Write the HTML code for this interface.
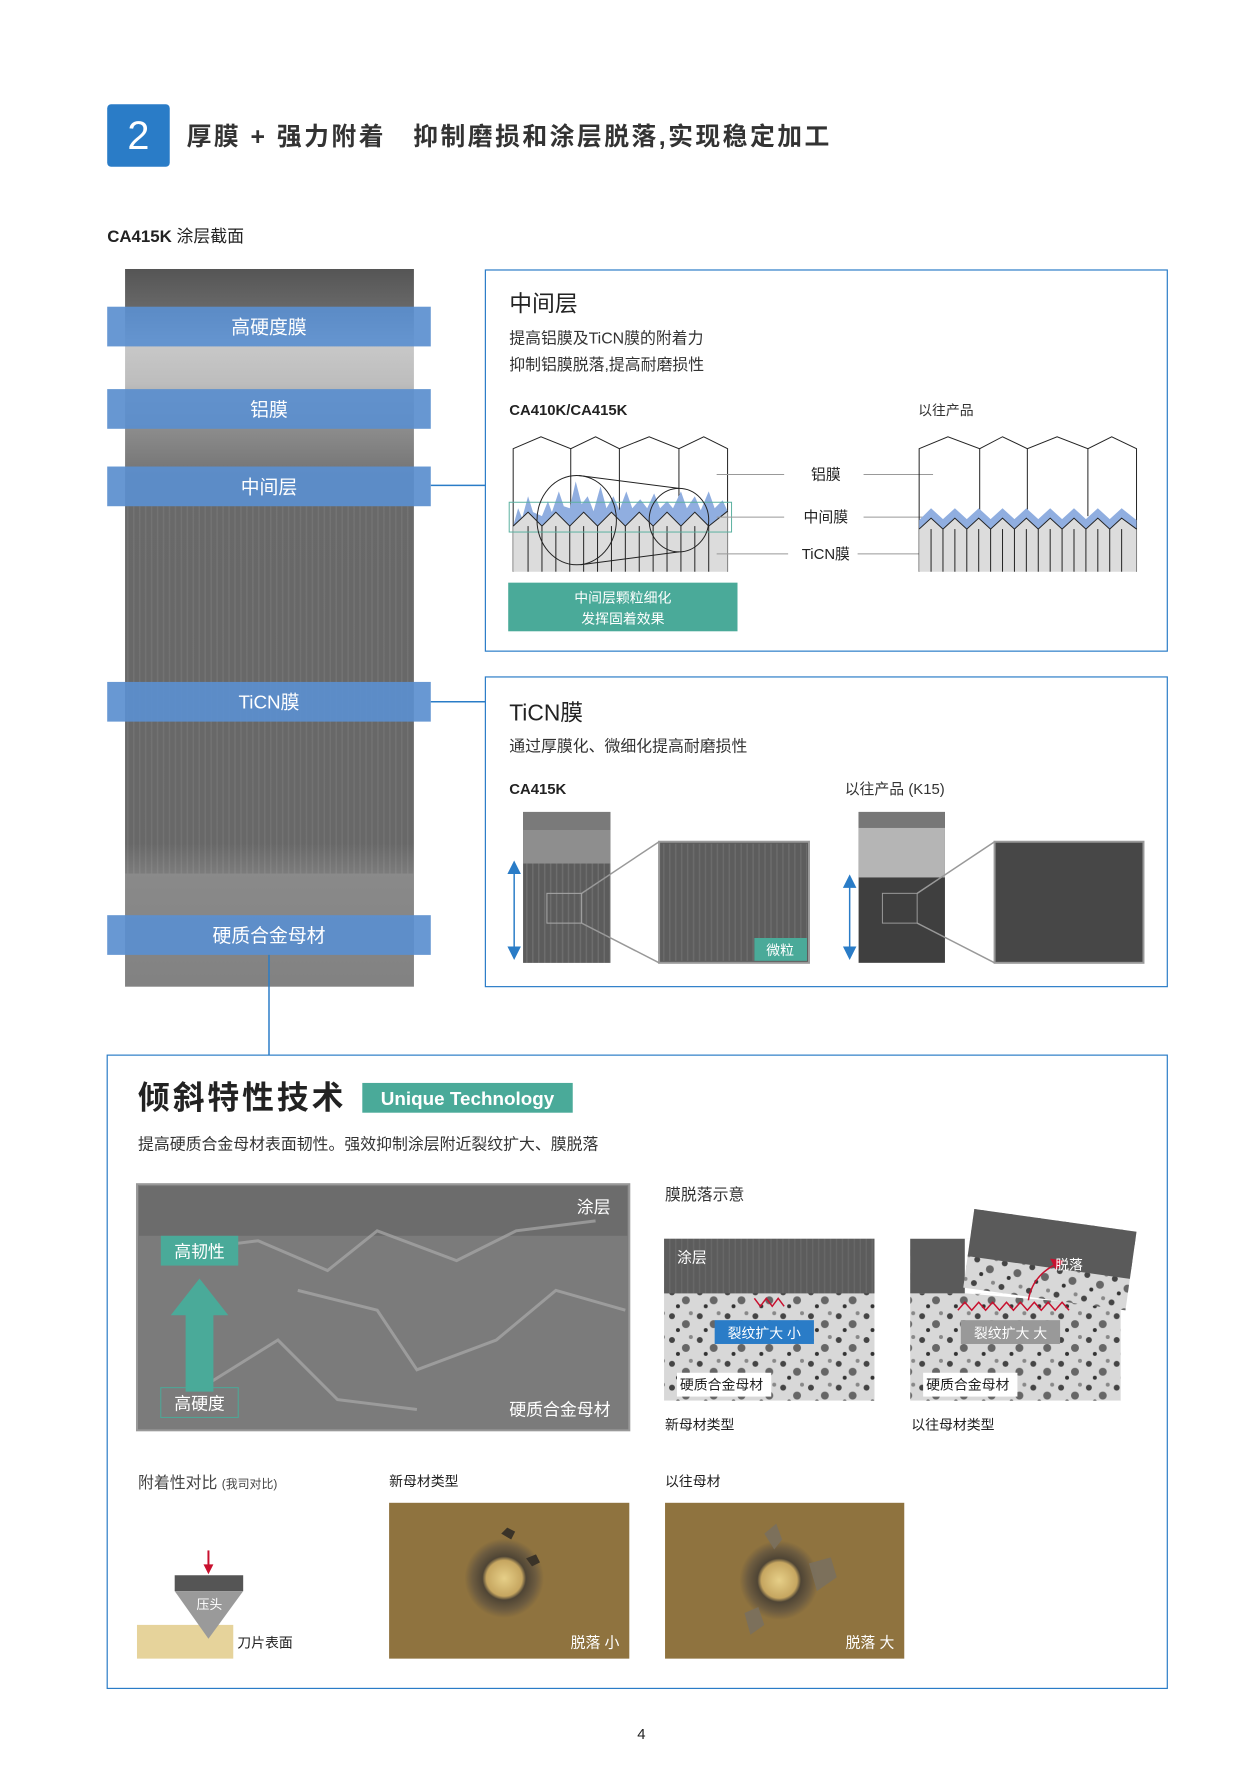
<!DOCTYPE html>
<html><head><meta charset="utf-8"><style>
html,body{margin:0;padding:0;background:#fff;}
svg{display:block;}
text{font-family:"Liberation Sans","Noto Sans CJK SC",sans-serif;}
</style></head><body>
<svg width="1257" height="1778" viewBox="0 0 1257 1778" xmlns="http://www.w3.org/2000/svg">
<defs>
<linearGradient id="lp" x1="0" y1="0" x2="0" y2="1">
<stop offset="0" stop-color="#555"/><stop offset="0.06" stop-color="#6a6a6a"/><stop offset="0.1" stop-color="#c9c9c9"/><stop offset="0.16" stop-color="#bdbdbd"/><stop offset="0.22" stop-color="#8d8d8d"/><stop offset="0.3" stop-color="#6f6f6f"/><stop offset="0.8" stop-color="#6d6d6d"/><stop offset="0.84" stop-color="#8a8a8a"/><stop offset="1" stop-color="#7a7a7a"/>
</linearGradient>
<pattern id="spk" width="28" height="24" patternUnits="userSpaceOnUse">
<rect width="28" height="24" fill="#d8d8d8"/><circle cx="5" cy="6" r="3" fill="#444"/><circle cx="19" cy="14" r="4" fill="#666"/><circle cx="11" cy="20" r="2" fill="#333"/><circle cx="24" cy="3" r="2" fill="#888"/>
</pattern>
<pattern id="str" width="6" height="40" patternUnits="userSpaceOnUse">
<rect width="6" height="40" fill="#5e5e5e"/><rect x="2" width="1.5" height="40" fill="#7a7a7a"/>
</pattern>
<radialGradient id="gold1"><stop offset="0" stop-color="#e6cf88"/><stop offset="0.45" stop-color="#c6a660"/><stop offset="0.55" stop-color="#4f4535"/><stop offset="0.8" stop-color="#6d5c40"/><stop offset="1" stop-color="#8f733f"/></radialGradient>
</defs>
<g transform="scale(0.9926)">
<!-- header -->
<rect x="108" y="105" width="63" height="63" rx="4" fill="#2a7cc7"/>
<text x="139.5" y="150" font-size="40" fill="#fff" text-anchor="middle">2</text>
<text x="188" y="146" font-size="25" font-weight="bold" fill="#333" letter-spacing="2.5">厚膜 + 强力附着　抑制磨损和涂层脱落,实现稳定加工</text>

<text x="108" y="244" font-size="17" fill="#222"><tspan font-weight="bold">CA415K</tspan> 涂层截面</text>

<!-- left photo -->
<rect x="126" y="271" width="291" height="723" fill="url(#lp)"/>
<rect x="126" y="510" width="291" height="370" fill="url(#str)" opacity="0.35"/>
<path d="M126 880 L417 880 L417 994 L126 994Z" fill="#8a8a8a" opacity="0.5"/>
<g fill="#5b8fcf" opacity="0.92">
<rect x="108" y="309" width="326" height="40"/>
<rect x="108" y="392" width="326" height="40"/>
<rect x="108" y="470" width="326" height="40"/>
<rect x="108" y="687" width="326" height="40"/>
<rect x="108" y="922" width="326" height="40"/>
</g>
<g font-size="19" fill="#fff" text-anchor="middle">
<text x="271" y="336">高硬度膜</text>
<text x="271" y="419">铝膜</text>
<text x="271" y="497">中间层</text>
<text x="271" y="714">TiCN膜</text>
<text x="271" y="949">硬质合金母材</text>
</g>
<g stroke="#2a7cc7" stroke-width="1.5" fill="none">
<line x1="434" y1="489" x2="489" y2="489"/>
<line x1="434" y1="707" x2="489" y2="707"/>
<line x1="271" y1="962" x2="271" y2="1063"/>
</g>

<!-- box 1 -->
<rect x="489" y="272" width="687" height="384" fill="none" stroke="#2a7cc7" stroke-width="1.2"/>
<text x="513" y="314" font-size="23" fill="#222">中间层</text>
<text x="513" y="346" font-size="16" fill="#333">提高铝膜及TiCN膜的附着力</text>
<text x="513" y="373" font-size="16" fill="#333">抑制铝膜脱落,提高耐磨损性</text>
<text x="513" y="418" font-size="15" fill="#222" font-weight="bold">CA410K/CA415K</text>
<text x="925" y="418" font-size="14" fill="#333">以往产品</text>

<g stroke="#222" stroke-width="1" fill="none">
<path d="M517 576 L517 452 L545 440 L575 452 L600 440 L624 452 L654 440 L684 452 L709 440 L733 452 L733 576"/>
<line x1="575" y1="452" x2="575" y2="530"/><line x1="624" y1="452" x2="624" y2="530"/><line x1="684" y1="452" x2="684" y2="530"/>
</g>
<path d="M517 576 L517 530 L532 516 L546 530 L560 516 L574 530 L588 516 L602 530 L616 516 L630 530 L644 516 L658 530 L672 516 L686 530 L700 516 L714 530 L733 515 L733 576Z" fill="#dcdcdc"/>
<path d="M517 530 L522 512 L526 522 L532 500 L537 516 L546 520 L552 505 L556 516 L563 495 L568 510 L574 512 L580 485 L586 508 L592 500 L598 515 L605 490 L611 512 L618 500 L624 514 L631 495 L637 512 L645 503 L652 512 L659 497 L665 512 L672 505 L678 512 L686 495 L692 512 L700 500 L706 514 L714 495 L720 512 L728 504 L733 515 L714 530 L700 516 L686 530 L672 516 L658 530 L644 516 L630 530 L616 516 L602 530 L588 516 L574 530 L560 516 L546 530 L532 516Z" fill="#90aee0"/>
<path d="M517 530 L532 516 L546 530 L560 516 L574 530 L588 516 L602 530 L616 516 L630 530 L644 516 L658 530 L672 516 L686 530 L700 516 L714 530 L733 515" stroke="#222" fill="none"/>
<g stroke="#222" stroke-width="1"><line x1="532" y1="530" x2="532" y2="576"/><line x1="546" y1="530" x2="546" y2="576"/><line x1="560" y1="530" x2="560" y2="576"/><line x1="574" y1="530" x2="574" y2="576"/><line x1="588" y1="530" x2="588" y2="576"/><line x1="602" y1="530" x2="602" y2="576"/><line x1="616" y1="530" x2="616" y2="576"/><line x1="630" y1="530" x2="630" y2="576"/><line x1="644" y1="530" x2="644" y2="576"/><line x1="658" y1="530" x2="658" y2="576"/><line x1="672" y1="530" x2="672" y2="576"/><line x1="686" y1="530" x2="686" y2="576"/><line x1="700" y1="530" x2="700" y2="576"/><line x1="714" y1="530" x2="714" y2="576"/></g>
<rect x="513" y="506" width="224" height="30" fill="none" stroke="#5ab0a0" stroke-width="1"/>
<ellipse cx="581" cy="524" rx="40" ry="45" fill="none" stroke="#222"/>
<ellipse cx="684" cy="524" rx="30" ry="32" fill="none" stroke="#222"/>
<line x1="583" y1="479" x2="684" y2="492" stroke="#222"/><line x1="585" y1="569" x2="684" y2="556" stroke="#222"/>
<rect x="512" y="587" width="231" height="49" fill="#4aaa99"/>
<text x="627.5" y="607" font-size="14" fill="#fff" text-anchor="middle">中间层颗粒细化</text>
<text x="627.5" y="628" font-size="14" fill="#fff" text-anchor="middle">发挥固着效果</text>

<g stroke="#999" stroke-width="1">
<line x1="722" y1="478" x2="790" y2="478"/><line x1="870" y1="478" x2="940" y2="478"/>
<line x1="722" y1="521" x2="790" y2="521"/><line x1="870" y1="521" x2="940" y2="521"/>
<line x1="722" y1="558" x2="794" y2="558"/><line x1="864" y1="558" x2="940" y2="558"/>
</g>
<g font-size="15" fill="#222" text-anchor="middle">
<text x="832" y="483">铝膜</text><text x="832" y="526">中间膜</text><text x="832" y="563">TiCN膜</text>
</g>

<g stroke="#222" stroke-width="1" fill="none">
<path d="M926 576 L926 452 L955 440 L987 452 L1010 440 L1035 452 L1065 440 L1096 452 L1120 440 L1145 452 L1145 576"/>
<line x1="987" y1="452" x2="987" y2="520"/><line x1="1035" y1="452" x2="1035" y2="520"/><line x1="1096" y1="452" x2="1096" y2="520"/>
</g>
<path d="M926 576 L926 533 L938 522 L950 533 L962 522 L974 533 L986 522 L998 533 L1010 522 L1022 533 L1034 522 L1046 533 L1058 522 L1070 533 L1082 522 L1094 533 L1106 522 L1118 533 L1130 522 L1145 533 L1145 576Z" fill="#dcdcdc"/>
<path d="M926 533 L938 522 L950 533 L962 522 L974 533 L986 522 L998 533 L1010 522 L1022 533 L1034 522 L1046 533 L1058 522 L1070 533 L1082 522 L1094 533 L1106 522 L1118 533 L1130 522 L1145 533 L1145 524 L1130 512 L1118 523 L1106 512 L1094 523 L1082 512 L1070 523 L1058 512 L1046 523 L1034 512 L1022 523 L1010 512 L998 523 L986 512 L974 523 L962 512 L950 523 L938 512 L926 524Z" fill="#90aee0"/>
<path d="M926 533 L938 522 L950 533 L962 522 L974 533 L986 522 L998 533 L1010 522 L1022 533 L1034 522 L1046 533 L1058 522 L1070 533 L1082 522 L1094 533 L1106 522 L1118 533 L1130 522 L1145 533" stroke="#222" fill="none"/>
<g stroke="#222"><line x1="938" y1="533" x2="938" y2="576"/><line x1="950" y1="533" x2="950" y2="576"/><line x1="962" y1="533" x2="962" y2="576"/><line x1="974" y1="533" x2="974" y2="576"/><line x1="986" y1="533" x2="986" y2="576"/><line x1="998" y1="533" x2="998" y2="576"/><line x1="1010" y1="533" x2="1010" y2="576"/><line x1="1022" y1="533" x2="1022" y2="576"/><line x1="1034" y1="533" x2="1034" y2="576"/><line x1="1046" y1="533" x2="1046" y2="576"/><line x1="1058" y1="533" x2="1058" y2="576"/><line x1="1070" y1="533" x2="1070" y2="576"/><line x1="1082" y1="533" x2="1082" y2="576"/><line x1="1094" y1="533" x2="1094" y2="576"/><line x1="1106" y1="533" x2="1106" y2="576"/><line x1="1118" y1="533" x2="1118" y2="576"/><line x1="1130" y1="533" x2="1130" y2="576"/></g>

<!-- box 2 -->
<rect x="489" y="682" width="687" height="312" fill="none" stroke="#2a7cc7" stroke-width="1.2"/>
<text x="513" y="726" font-size="23" fill="#222">TiCN膜</text>
<text x="513" y="757" font-size="16" fill="#333">通过厚膜化、微细化提高耐磨损性</text>
<text x="513" y="800" font-size="15" fill="#222" font-weight="bold">CA415K</text>
<text x="851" y="800" font-size="15" fill="#333">以往产品 (K15)</text>

<rect x="527" y="818" width="88" height="152" fill="#5a5a5a"/>
<rect x="527" y="818" width="88" height="18" fill="#7a7a7a"/>
<rect x="527" y="836" width="88" height="34" fill="#8e8e8e"/>
<rect x="527" y="870" width="88" height="100" fill="url(#str)" opacity="0.6"/>
<rect x="551" y="900" width="35" height="30" fill="none" stroke="#aaa"/>
<line x1="586" y1="900" x2="664" y2="848" stroke="#999" stroke-width="1.5"/><line x1="586" y1="930" x2="664" y2="970" stroke="#999" stroke-width="1.5"/>
<rect x="664" y="848" width="151" height="122" fill="#5c5c5c" stroke="#999" stroke-width="2"/>
<rect x="666" y="850" width="147" height="118" fill="url(#str)" opacity="0.5"/>
<rect x="760" y="945" width="53" height="23" fill="#4aaa99"/>
<text x="786" y="962" font-size="14" fill="#fff" text-anchor="middle">微粒</text>

<rect x="865" y="818" width="87" height="152" fill="#3f3f3f"/>
<rect x="865" y="818" width="87" height="16" fill="#777"/>
<rect x="865" y="834" width="87" height="50" fill="#b5b5b5"/>
<rect x="889" y="900" width="35" height="30" fill="none" stroke="#999"/>
<line x1="924" y1="900" x2="1002" y2="848" stroke="#999" stroke-width="1.5"/><line x1="924" y1="930" x2="1002" y2="970" stroke="#999" stroke-width="1.5"/>
<rect x="1002" y="848" width="150" height="122" fill="#474747" stroke="#999" stroke-width="2"/>

<g fill="#2a7cc7" stroke="#2a7cc7">
<line x1="518" y1="876" x2="518" y2="958" stroke-width="1.5"/><path d="M512 880 L518 868 L524 880Z"/><path d="M512 954 L518 966 L524 954Z"/>
<line x1="856" y1="890" x2="856" y2="958" stroke-width="1.5"/><path d="M850 894 L856 882 L862 894Z"/><path d="M850 954 L856 966 L862 954Z"/>
</g>

<!-- bottom box -->
<rect x="108" y="1063" width="1068" height="638" fill="none" stroke="#2a7cc7" stroke-width="1.2"/>
<text x="139" y="1117" font-size="32" font-weight="bold" fill="#222" letter-spacing="3">倾斜特性技术</text>
<rect x="365" y="1091" width="212" height="30" fill="#4aaa99"/>
<text x="471" y="1113" font-size="19" font-weight="bold" fill="#fff" text-anchor="middle">Unique Technology</text>
<text x="139" y="1158" font-size="16" fill="#333">提高硬质合金母材表面韧性。强效抑制涂层附近裂纹扩大、膜脱落</text>

<rect x="138" y="1193" width="496" height="248" fill="#7b7b7b" stroke="#999" stroke-width="2"/>
<rect x="140" y="1195" width="492" height="50" fill="#6c6c6c"/>
<g stroke="#aaa" stroke-width="3" fill="none" opacity="0.7"><path d="M180 1260 L260 1250 L330 1280 L380 1240 L460 1270 L520 1240 L600 1230"/><path d="M300 1300 L380 1320 L420 1380 L500 1350 L560 1300 L630 1320"/><path d="M200 1400 L280 1350 L340 1410 L420 1420"/></g>
<text x="615" y="1222" font-size="17" fill="#fff" text-anchor="end">涂层</text>
<text x="615" y="1426" font-size="17" fill="#fff" text-anchor="end">硬质合金母材</text>
<rect x="162" y="1245" width="78" height="30" fill="#4aaa99"/>
<text x="201" y="1267" font-size="17" fill="#fff" text-anchor="middle">高韧性</text>
<rect x="187" y="1322" width="28" height="80" fill="#4aaa99"/><path d="M172 1325 L201 1288 L230 1325Z" fill="#4aaa99"/>
<rect x="162" y="1398" width="78" height="30" fill="none" stroke="#4aaa99"/>
<text x="201" y="1420" font-size="17" fill="#fff" text-anchor="middle">高硬度</text>

<text x="670" y="1209" font-size="16" fill="#333">膜脱落示意</text>
<rect x="669" y="1248" width="212" height="163" fill="url(#spk)"/>
<rect x="669" y="1248" width="212" height="55" fill="#5a5a5a"/>
<rect x="669" y="1248" width="212" height="55" fill="url(#str)" opacity="0.4"/>
<text x="682" y="1272" font-size="15" fill="#fff">涂层</text>
<path d="M760 1308 l6 8 l6 -8 l6 8 l6 -8 l6 8" stroke="#c8102e" fill="none" stroke-width="1.5"/>
<rect x="720" y="1330" width="100" height="24" fill="#2a7cc7"/>
<text x="770" y="1348" font-size="14" fill="#fff" text-anchor="middle">裂纹扩大 小</text>
<rect x="682" y="1383" width="95" height="24" fill="#fff"/>
<text x="685" y="1400" font-size="14" fill="#222">硬质合金母材</text>
<text x="670" y="1440" font-size="14" fill="#222">新母材类型</text>

<rect x="917" y="1248" width="212" height="163" fill="url(#spk)"/>
<rect x="917" y="1248" width="212" height="55" fill="#fff"/>
<rect x="917" y="1248" width="55" height="55" fill="#5a5a5a"/>
<path d="M972 1303 L1129 1316 L1129 1303Z" fill="#fff"/>
<g transform="rotate(8 1050 1270)"><rect x="975" y="1228" width="165" height="80" fill="url(#spk)"/><rect x="975" y="1228" width="165" height="48" fill="#5a5a5a"/></g>
<path d="M965 1320 l7 -8 l7 8 l7 -8 l7 8 l7 -8 l7 8 l7 -8 l7 8 l7 -8 l7 8 l7 -8 l7 8 l7 -8 l7 8 l7 -8 l7 8" stroke="#c8102e" fill="none" stroke-width="1.5"/>
<path d="M1036 1310 Q1040 1285 1065 1273" stroke="#c8102e" fill="none" stroke-width="1.5"/><path d="M1058 1268 L1072 1270 L1064 1280Z" fill="#c8102e"/>
<text x="1063" y="1279" font-size="14" fill="#fff">脱落</text>
<rect x="968" y="1330" width="100" height="24" fill="#999"/>
<text x="1018" y="1348" font-size="14" fill="#fff" text-anchor="middle">裂纹扩大 大</text>
<rect x="930" y="1383" width="95" height="24" fill="#fff"/>
<text x="933" y="1400" font-size="14" fill="#222">硬质合金母材</text>
<text x="918" y="1440" font-size="14" fill="#222">以往母材类型</text>

<text x="139" y="1499" font-size="16" fill="#444">附着性对比 <tspan font-size="12">(我司对比)</tspan></text>
<text x="392" y="1497" font-size="14" fill="#222">新母材类型</text>
<text x="670" y="1497" font-size="14" fill="#222">以往母材</text>
<rect x="392" y="1514" width="242" height="157" fill="#8f733f"/>
<circle cx="508" cy="1590" r="40" fill="url(#gold1)"/>
<path d="M505 1545 l6 -6 l8 4 l-4 8Z M530 1570 l10 -4 l4 8 l-8 4Z" fill="#3a3328"/>
<text x="624" y="1660" font-size="15" fill="#fff" text-anchor="end">脱落 小</text>
<rect x="670" y="1514" width="241" height="157" fill="#8f733f"/>
<circle cx="785" cy="1592" r="40" fill="url(#gold1)"/>
<path d="M770 1545 l12 -10 l6 16 l-8 10Z M815 1575 l22 -6 l6 20 l-20 14Z M750 1625 l14 -6 l6 18 l-14 10Z" fill="#7a705e" opacity="0.9"/>
<text x="901" y="1660" font-size="15" fill="#fff" text-anchor="end">脱落 大</text>

<rect x="138" y="1637" width="97" height="34" fill="#e6d39b"/>
<line x1="210" y1="1562" x2="210" y2="1578" stroke="#c8102e" stroke-width="2"/><path d="M205 1576 L210 1586 L215 1576Z" fill="#c8102e"/>
<rect x="176" y="1587" width="69" height="16" fill="#555"/>
<path d="M176 1603 L245 1603 L210 1651Z" fill="#9a9a9a"/>
<text x="211" y="1621" font-size="13" fill="#fff" text-anchor="middle">压头</text>
<text x="239" y="1660" font-size="14" fill="#222">刀片表面</text>

<text x="642" y="1752" font-size="15" fill="#222" font-family="Liberation Serif,serif">4</text>
</g>
</svg>
</body></html>
